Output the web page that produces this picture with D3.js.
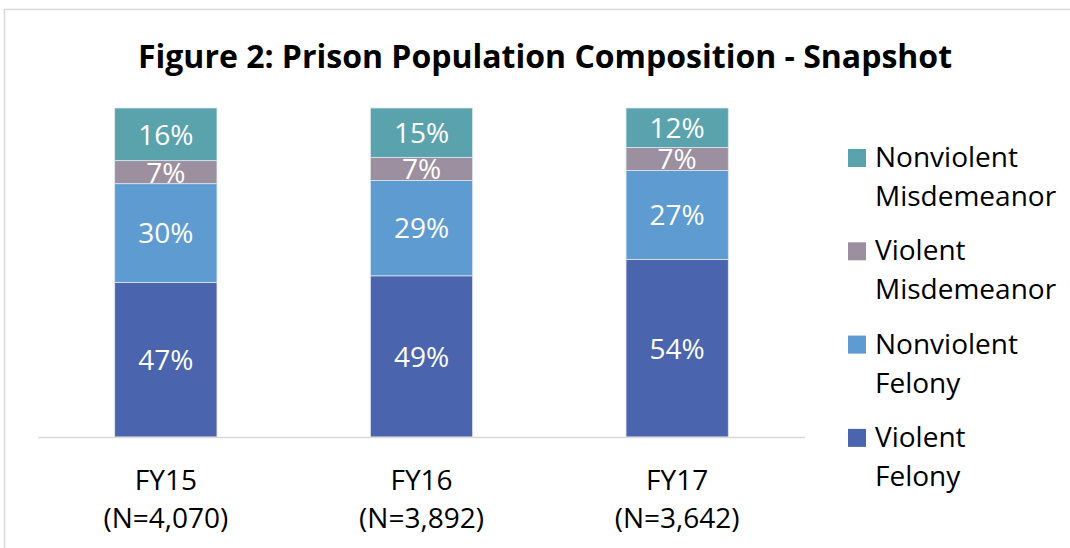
<!DOCTYPE html>
<html>
<head>
<meta charset="utf-8">
<script src="https://cdn.jsdelivr.net/npm/d3@7"></script>
<style>
  body { margin: 0; background: #fff; }
  svg { display: block; font-family: "Open Sans", Lato, sans-serif; }
</style>
</head>
<body>
<div id="chart"></div>
<script>
// Data
const years = ["FY15", "FY16", "FY17"];
const counts = ["(N=4,070)", "(N=3,892)", "(N=3,642)"];
const seriesNames = ["Violent Felony", "Nonviolent Felony", "Violent Misdemeanor", "Nonviolent Misdemeanor"];
const violentFelony = [47, 49, 54];
const nonviolentFelony = [30, 29, 27];
const violentMisdemeanor = [7, 7, 7];
const nonviolentMisdemeanor = [16, 15, 12];
const legendLines = [["Nonviolent", "Misdemeanor"], ["Violent", "Misdemeanor"], ["Nonviolent", "Felony"], ["Violent", "Felony"]];

const colors = ["#4a65ae", "#5e9bd0", "#9c8f9f", "#5aa3ad"];

const WIDTH = 1070, HEIGHT = 548;
const margins = { top: 108, left: 38, bottom: 111, right: 265 };
const width = WIDTH - margins.left - margins.right,
    height = HEIGHT - margins.top - margins.bottom;

const rows = years.map((y, i) => ({
    year: y,
    n: counts[i],
    "Violent Felony": violentFelony[i],
    "Nonviolent Felony": nonviolentFelony[i],
    "Violent Misdemeanor": violentMisdemeanor[i],
    "Nonviolent Misdemeanor": nonviolentMisdemeanor[i]
}));

const stacked = d3.stack().keys(seriesNames)(rows);

const svg = d3.select("#chart")
    .append("svg")
    .attr("width", WIDTH)
    .attr("height", HEIGHT);

// chart border
svg.append("rect")
    .attr("x", 4.5)
    .attr("y", 9.5)
    .attr("width", 1080)
    .attr("height", 560)
    .attr("fill", "none")
    .attr("stroke", "#d9d9d9")
    .attr("stroke-width", 1.5);

svg.append("text")
    .attr("x", 545)
    .attr("y", 68)
    .attr("text-anchor", "middle")
    .attr("font-size", 32)
    .attr("font-weight", "bold")
    .attr("fill", "#000")
    .text("Figure 2: Prison Population Composition - Snapshot");

const xScale = d3.scaleBand()
    .domain(years)
    .range([0, width])
    .paddingInner(0.6)
    .paddingOuter(0.3);

const yScale = d3.scaleLinear()
    .domain([0, 100])
    .range([height, 0]);

const plot = svg.append("g")
    .attr("transform", `translate(${margins.left}, ${margins.top})`);

const groups = plot.selectAll("g.series")
    .data(stacked)
    .join("g")
    .attr("class", "series")
    .attr("fill", (d, i) => colors[i]);

groups.selectAll("rect")
    .data(d => d)
    .join("rect")
    .attr("x", d => xScale(d.data.year))
    .attr("y", d => yScale(d[1]))
    .attr("width", xScale.bandwidth())
    .attr("height", d => yScale(d[0]) - yScale(d[1]))
    .attr("stroke", "#dde6f2")
    .attr("stroke-width", 0.8);

groups.selectAll("text")
    .data(d => d.map(v => ({ v, key: d.key })))
    .join("text")
    .attr("x", d => xScale(d.v.data.year) + xScale.bandwidth() / 2)
    .attr("y", d => (yScale(d.v[0]) + yScale(d.v[1])) / 2)
    .attr("dy", "0.37em")
    .attr("text-anchor", "middle")
    .attr("font-size", 28)
    .attr("fill", "#fff")
    .text(d => d.v.data[d.key] + "%");

// baseline
plot.append("line")
    .attr("x1", 0)
    .attr("x2", width)
    .attr("y1", height + 0.5)
    .attr("y2", height + 0.5)
    .attr("stroke", "#d9d9d9")
    .attr("stroke-width", 1.5);

// category labels
const xLabels = plot.selectAll("text.xlab")
    .data(rows)
    .join("text")
    .attr("class", "xlab")
    .attr("text-anchor", "middle")
    .attr("font-size", 28)
    .attr("fill", "#000")
    .attr("transform", d => `translate(${xScale(d.year) + xScale.bandwidth() / 2}, ${height})`);

xLabels.append("tspan").attr("x", 0).attr("y", 53).text(d => d.year);
xLabels.append("tspan").attr("x", 0).attr("y", 91).text(d => d.n);

// legend
const legend = svg.append("g")
    .attr("transform", "translate(848, 149)");

const legendItems = legend.selectAll("g")
    .data(legendLines)
    .join("g")
    .attr("transform", (_, i) => `translate(0, ${i * 93.3})`);

legendItems.append("rect")
    .attr("width", 18)
    .attr("height", 18)
    .attr("fill", (_, i) => colors[colors.length - 1 - i]);

legendItems.append("text")
    .attr("font-size", 28)
    .attr("fill", "#000")
    .selectAll("tspan")
    .data(d => d)
    .join("tspan")
    .attr("x", 27)
    .attr("y", (_, j) => 18 + j * 39)
    .text(d => d);
</script>
</body>
</html>
